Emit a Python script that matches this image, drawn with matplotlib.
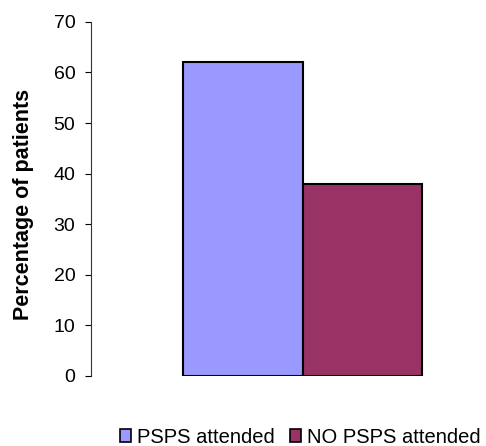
import matplotlib.pyplot as plt
from matplotlib.patches import Patch

plt.rcParams["font.family"] = ["Liberation Sans", "DejaVu Sans"]

# datos
grupos = ["PSPS attended", "NO PSPS attended"]
porcentajes = [62, 38]
colores = ["#9999FF", "#993366"]
ticks_y = [0, 10, 20, 30, 40, 50, 60, 70]

fig = plt.figure(figsize=(4.86, 4.46), dpi=100)
ax = fig.add_axes([0.188, 0.157, 0.78, 0.794])

posiciones = [-0.5, 0.5]
for pos, valor, color in zip(posiciones, porcentajes, colores):
    ax.bar(pos, valor, width=1.0, color=color, edgecolor="black", linewidth=1.5)

ax.set_xlim(-1.76, 1.4)
ax.set_ylim(0, 70)
ax.set_yticks(ticks_y)
ax.set_xticks([])
ax.tick_params(axis="y", direction="out", length=4.5, width=0.8,
               labelsize=14, pad=7)

for lado in ["top", "right", "bottom"]:
    ax.spines[lado].set_visible(False)
ax.spines["left"].set_linewidth(0.8)
ax.spines["left"].set_color("#333333")

ax.set_ylabel("Percentage of patients", fontsize=15.5, fontweight="bold")
ax.yaxis.set_label_coords(-0.152, 0.483)

handles = [Patch(facecolor=c, edgecolor="black", linewidth=1.2, label=g)
           for g, c in zip(grupos, colores)]
fig.legend(handles=handles, loc="center", bbox_to_anchor=(0.618, 0.02),
           ncol=2, frameon=False, fontsize=14.5, handlelength=0.55,
           handleheight=0.55, handletextpad=0.3, columnspacing=0.75,
           borderpad=0, borderaxespad=0)

fig.savefig("out.png", dpi=100)
